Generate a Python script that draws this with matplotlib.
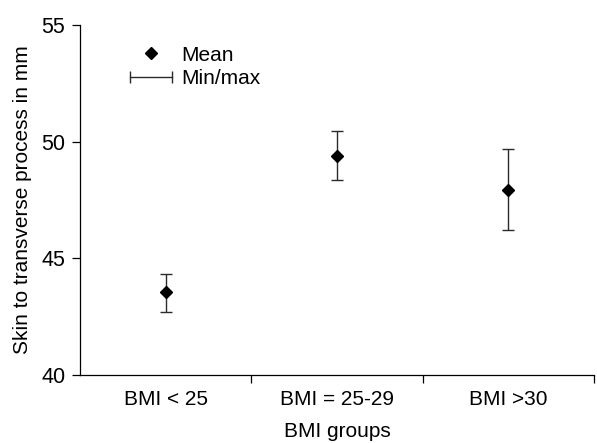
import matplotlib
matplotlib.use("Agg")
import matplotlib.pyplot as plt
from matplotlib.lines import Line2D
from matplotlib.legend_handler import HandlerLine2D

plt.rcParams['font.family'] = ['Liberation Sans', 'DejaVu Sans']

groups = ['BMI < 25', 'BMI = 25-29', 'BMI >30']
mean_mm = [43.55, 49.4, 47.95]
min_mm = [42.7, 48.35, 46.2]
max_mm = [44.35, 50.45, 49.7]

pos = [i + 0.5 for i in range(len(groups))]
err_low = [m - lo for m, lo in zip(mean_mm, min_mm)]
err_high = [hi - m for m, hi in zip(mean_mm, max_mm)]

fig = plt.figure(figsize=(5.97, 4.43), dpi=100)
ax = fig.add_axes([0.134, 0.1535, 0.861, 0.79])

ax.errorbar(pos, mean_mm, yerr=[err_low, err_high], fmt='none',
            ecolor='#2a2a2a', elinewidth=1.0, capsize=4.2, capthick=1.0)
ax.plot(pos, mean_mm, 'D', color='black', markersize=6)

ax.set_xlim(0, 3)
ax.set_ylim(40, 55)
ax.set_yticks([40, 45, 50, 55])
ax.set_xticks([1, 2, 3])
ax.set_xticklabels([])
ax.set_xticks(pos, minor=True)
ax.set_xticklabels(groups, minor=True)
ax.tick_params(axis='x', which='minor', length=0, pad=11, labelsize=15)
ax.tick_params(axis='x', which='major', length=5.5, width=0.9)
ax.tick_params(axis='y', length=5.5, width=0.9, labelsize=15.5, pad=5)

for s in ['top', 'right']:
    ax.spines[s].set_visible(False)
for s in ['left', 'bottom']:
    ax.spines[s].set_linewidth(0.9)

ax.set_xlabel('BMI groups', fontsize=15, labelpad=9)
ax.set_ylabel('Skin to transverse process in mm', fontsize=15, labelpad=7)

h_mean = Line2D([], [], linestyle='none', marker='D', color='black', markersize=6)
h_rng = Line2D([], [], color='#2a2a2a', linewidth=1.0, marker='|',
               markersize=8.4, markeredgewidth=1.0)
ax.legend([h_mean, h_rng], ['Mean', 'Min/max'], loc='upper left',
          bbox_to_anchor=(0.0615, 0.995), frameon=False, fontsize=15,
          handlelength=2.0, handletextpad=0.45, labelspacing=0.22,
          handler_map={h_rng: HandlerLine2D(numpoints=2, marker_pad=0)})

fig.savefig('out.png', dpi=100)
